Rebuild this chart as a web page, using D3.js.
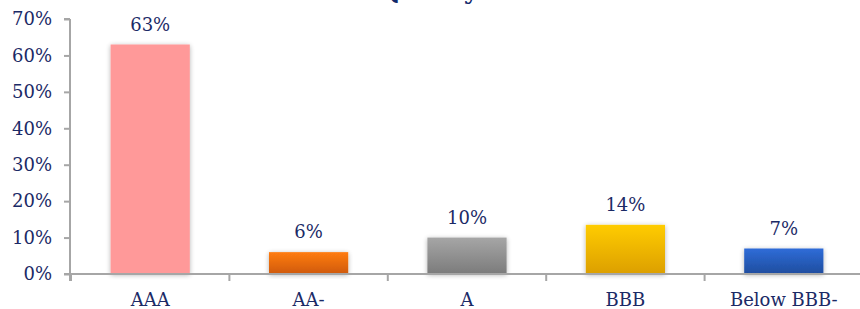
<!DOCTYPE html>
<html>
<head>
<meta charset="utf-8">
<script src="https://cdn.jsdelivr.net/npm/d3@7"></script>
<style>
  body { margin: 0; background: #fff; }
  svg { display: block; }
</style>
</head>
<body>
<svg id="chart" width="860" height="309"></svg>
<script>
const categories = ["AAA", "AA-", "A", "BBB", "Below BBB-"];
const shares = [63, 6, 10, 13.5, 7];
const yTicks = [0, 10, 20, 30, 40, 50, 60, 70];
const barColors = [
  ["#ff9999", "#ff9999"],
  ["#ff7c12", "#cf5a0c"],
  ["#a6a6a6", "#7b7b7b"],
  ["#ffcc00", "#dc9f00"],
  ["#2f6cd8", "#1f4d9e"]
];

const svg = d3.select("#chart");
const width = +svg.attr("width");
const height = +svg.attr("height");
const margin = {top: 19, right: -3, bottom: 35, left: 70};
const textColor = "#1b2a66";
const font = "'DejaVu Serif', 'Liberation Serif', serif";

const x = d3.scaleBand()
  .domain(categories)
  .range([margin.left + 1, width - margin.right])
  .paddingInner(0.5)
  .paddingOuter(0.25);

const y = d3.scaleLinear()
  .domain([0, 70])
  .range([height - margin.bottom, margin.top]);

const defs = svg.append("defs");

// soft shadow like the spreadsheet bars
const shadow = defs.append("filter")
  .attr("id", "shadow")
  .attr("x", "-20%").attr("y", "-20%")
  .attr("width", "140%").attr("height", "140%");
shadow.append("feGaussianBlur").attr("in", "SourceAlpha").attr("stdDeviation", 2.5);
shadow.append("feOffset").attr("dx", 0).attr("dy", 1).attr("result", "blur");
shadow.append("feComponentTransfer").append("feFuncA").attr("type", "linear").attr("slope", 0.3);
const merge = shadow.append("feMerge");
merge.append("feMergeNode");
merge.append("feMergeNode").attr("in", "SourceGraphic");

barColors.forEach((c, i) => {
  const g = defs.append("linearGradient")
    .attr("id", "grad" + i)
    .attr("x1", 0).attr("y1", 0).attr("x2", 0).attr("y2", 1);
  g.append("stop").attr("offset", "0%").attr("stop-color", c[0]);
  g.append("stop").attr("offset", "100%").attr("stop-color", c[1]);
});

// title, mostly cut off at the top edge
svg.append("text")
  .attr("x", 478)
  .attr("y", -1)
  .attr("text-anchor", "end")
  .style("font-family", font)
  .style("font-size", "24px")
  .style("font-weight", "bold")
  .style("fill", "#10286a")
  .text("Credit Quality");

// bars
svg.selectAll("rect.bar")
  .data(categories)
  .join("rect")
  .attr("class", "bar")
  .attr("x", d => x(d))
  .attr("y", (d, i) => y(shares[i]))
  .attr("width", x.bandwidth())
  .attr("height", (d, i) => y(0) - y(shares[i]))
  .attr("fill", (d, i) => `url(#grad${i})`)
  .attr("filter", "url(#shadow)");

// value labels
svg.selectAll("text.value")
  .data(categories)
  .join("text")
  .attr("class", "value")
  .attr("x", d => x(d) + x.bandwidth() / 2)
  .attr("y", (d, i) => y(shares[i]) - 14)
  .attr("text-anchor", "middle")
  .style("font-family", font)
  .style("font-size", "18px")
  .style("fill", textColor)
  .text((d, i) => Math.round(shares[i]) + "%");

// Y-axis
const yAxis = svg.append("g")
  .attr("transform", `translate(${margin.left}, 0)`)
  .call(d3.axisLeft(y).tickValues(yTicks).tickFormat(d => d + "%").tickSize(6).tickSizeOuter(0).tickPadding(12));

// X-axis
const xAxis = svg.append("g")
  .attr("transform", `translate(0, ${y(0)})`)
  .call(d3.axisBottom(x).tickSize(0).tickSizeOuter(0).tickPadding(19));

xAxis.select(".domain").attr("d", `M${margin.left - 6},0H${width}`);

// category separators below the axis
const edges = categories.map(d => x(d) - x.step() * x.paddingInner() / 2);
edges[0] = margin.left + 1;
xAxis.selectAll("line.sep")
  .data(edges)
  .join("line")
  .attr("class", "sep")
  .attr("x1", d => d).attr("x2", d => d)
  .attr("y1", 0).attr("y2", 7);

[yAxis, xAxis].forEach(a => {
  a.selectAll(".domain, line").attr("stroke", "#a6a6a6").attr("stroke-width", 2);
  a.selectAll("text")
    .style("font-family", font)
    .style("font-size", "18px")
    .style("fill", textColor);
});
yAxis.select(".domain").attr("d", `M0,${y(70)}H-6M0,${y(70)}V${y(0) + 7}`);
</script>
</body>
</html>
